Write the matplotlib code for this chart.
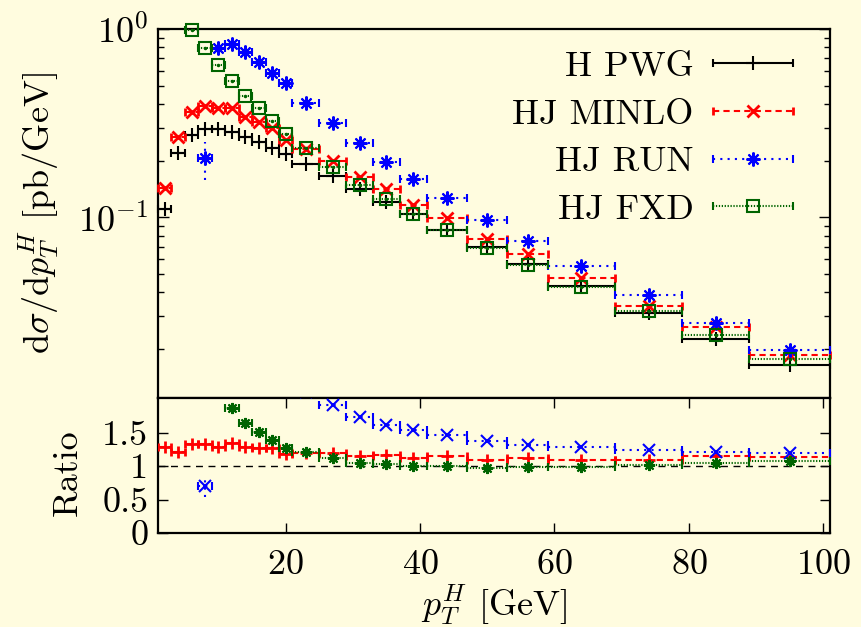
import numpy as np
import matplotlib
matplotlib.use("Agg")
import matplotlib.pyplot as plt
from matplotlib.container import ErrorbarContainer
from matplotlib.legend_handler import HandlerErrorbar
from matplotlib.ticker import LogLocator, NullFormatter

nan = np.nan

# pT^H binning [GeV]
bin_edges = [1, 3, 5, 7, 9, 11, 13, 15, 17, 19, 21, 25, 29, 33, 37, 41,
             47, 53, 59, 69, 79, 89, 101]

# dsigma/dpT^H [pb/GeV]
h_pwg = [0.111, 0.220, 0.273, 0.293, 0.293, 0.285, 0.268, 0.252, 0.234, 0.218,
         0.193, 0.166, 0.142, 0.121, 0.104, 0.0858, 0.0700, 0.0565, 0.0431,
         0.0311, 0.0227, 0.0164]
hj_minlo = [0.143, 0.268, 0.364, 0.390, 0.379, 0.382, 0.343, 0.322, 0.297, 0.257,
            0.230, 0.199, 0.164, 0.141, 0.116, 0.0987, 0.0766, 0.0637, 0.0474,
            0.0338, 0.0261, 0.0186]
hj_run = [nan, nan, nan, 0.206, 0.790, 0.829, 0.758, 0.670, 0.586, 0.519,
          0.406, 0.318, 0.247, 0.196, 0.160, 0.126, 0.0966, 0.0748, 0.0552,
          0.0386, 0.0276, 0.0197]
hj_fxd = [nan, nan, 0.99, 0.796, 0.644, 0.531, 0.442, 0.379, 0.326, 0.276,
          0.233, 0.186, 0.148, 0.125, 0.104, 0.0856, 0.0684, 0.0559, 0.0427,
          0.0318, 0.0238, 0.0177]

# HJ RUN has a visible stat. band only in its first bin
run_band_bin = 3
run_band = (0.157, 0.252)

labels = ["H PWG", "HJ MINLO", "HJ RUN", "HJ FXD"]

BG = "#fffcdf"
plt.rcParams.update({
    "font.family": "serif",
    "font.serif": ["cmr10"],
    "mathtext.fontset": "cm",
    "axes.formatter.use_mathtext": True,
    "axes.unicode_minus": False,
    "font.size": 26,
    "figure.facecolor": BG,
    "axes.facecolor": BG,
    "savefig.facecolor": BG,
})

edges = np.array(bin_edges, dtype=float)
x = 0.5 * (edges[1:] + edges[:-1])
xerr = 0.5 * (edges[1:] - edges[:-1])
ref = np.array(h_pwg)

LW = 1.5
styles = [
    dict(color="black", ls="-", marker="+", ms=10, mew=LW, mfc="black", rmarker=None),
    dict(color="#ff0000", ls=(0, (3, 2)), marker="x", ms=8, mew=2.0, mfc="#ff0000", rmarker="+"),
    dict(color="#0000ff", ls=(0, (1, 2.5)), marker=(8, 2, 0), ms=10, mew=LW, mfc="#0000ff", rmarker="x"),
    dict(color="#006400", ls=(0, (0.6, 0.8)), marker="s", ms=8, mew=LW, mfc="none", rmarker=(8, 2, 0)),
]


def draw_series(ax, y, st, marker, clip=True, z=2, ms=None):
    eb = ax.errorbar(x, y, xerr=xerr, linestyle="none", marker=marker,
                     ms=ms or st["ms"], mec=st["color"], mfc=st["mfc"], mew=st["mew"],
                     color=st["color"], ecolor=st["color"], elinewidth=LW,
                     capsize=3, capthick=LW, zorder=z)
    eb[2][0].set_linestyle(st["ls"])
    for art in [eb[0], *eb[1], *eb[2]]:
        art.set_clip_on(clip)
    return eb


fig = plt.figure(figsize=(8.61, 6.27), dpi=100)
ax = fig.add_axes([158 / 861, 1 - 398 / 627, 672 / 861, 369 / 627])
axr = fig.add_axes([158 / 861, 1 - 533 / 627, 672 / 861, 135 / 627], sharex=ax)

data = [h_pwg, hj_minlo, hj_run, hj_fxd]
handles = []
for i, (y, st) in enumerate(zip(data, styles)):
    handles.append(draw_series(ax, y, st, st["marker"], clip=False, z=2 + i))

# small centre dot inside the HJ FXD squares
ax.plot(x, hj_fxd, linestyle="none", marker=".", ms=3, color=styles[3]["color"],
        clip_on=False, zorder=6)

# vertical band for the first HJ RUN bin
i = run_band_bin
yr = hj_run[i]
e = ax.errorbar([x[i]], [yr], yerr=[[yr - run_band[0]], [run_band[1] - yr]],
                fmt="none", ecolor=styles[2]["color"], elinewidth=LW)
e[2][0].set_linestyle(styles[2]["ls"])

# ratios to H PWG
for j, (y, st) in enumerate(zip(data[1:], styles[1:])):
    r = np.array(y) / ref
    draw_series(axr, r, st, st["rmarker"], z=3 + j, ms=8)
yr_r = yr / ref[i]
e = axr.errorbar([x[i]], [yr_r],
                 yerr=[[(yr - run_band[0]) / ref[i]], [(run_band[1] - yr) / ref[i]]],
                 fmt="none", ecolor=styles[2]["color"], elinewidth=LW)
e[2][0].set_linestyle(styles[2]["ls"])
axr.axhline(1.0, color="black", lw=1.0, ls=(0, (5, 4)), zorder=1)

# axes cosmetics
ax.set_yscale("log")
ax.set_xlim(1, 101)
ax.set_ylim(0.011, 1.0)
ax.yaxis.set_major_locator(LogLocator(base=10))
ax.yaxis.set_minor_locator(LogLocator(base=10, subs=np.arange(2, 10)))
ax.yaxis.set_minor_formatter(NullFormatter())
ax.tick_params(axis="x", which="both", bottom=False, top=False, labelbottom=False)
ax.tick_params(axis="y", which="both", direction="in", left=True, right=True, pad=7)
ax.tick_params(axis="y", which="major", length=8, width=1.0)
ax.tick_params(axis="y", which="minor", length=4, width=1.0)

axr.set_ylim(0, 2.02)
axr.set_yticks([0, 0.5, 1, 1.5], ["0", "0.5", "1", "1.5"])
axr.set_xticks([20, 40, 60, 80, 100])
axr.tick_params(which="both", direction="in", top=True, right=True,
                length=7, width=1.0)
axr.tick_params(axis="x", pad=12)
axr.tick_params(axis="y", pad=7)

for a in (ax, axr):
    for s in a.spines.values():
        s.set_linewidth(1.6)

ax.set_ylabel(r"$\mathrm{d}\sigma/\mathrm{d}p_T^H$ [pb/GeV]")
ax.yaxis.set_label_coords(-0.145, 0.5)
axr.set_ylabel("Ratio")
axr.yaxis.set_label_coords(-0.11, 0.45)
axr.set_xlabel(r"$p_T^H$ [GeV]")
axr.xaxis.set_label_coords(0.5, -0.37)

ax.legend(handles, labels, loc="upper right", bbox_to_anchor=(0.993, 1.03),
          frameon=False, markerfirst=False,
          numpoints=1, handlelength=2.2, handletextpad=0.55,
          labelspacing=0.43, borderaxespad=0.5,
          handler_map={ErrorbarContainer: HandlerErrorbar(xerr_size=1.1)})

fig.savefig("out.png", dpi=100)
